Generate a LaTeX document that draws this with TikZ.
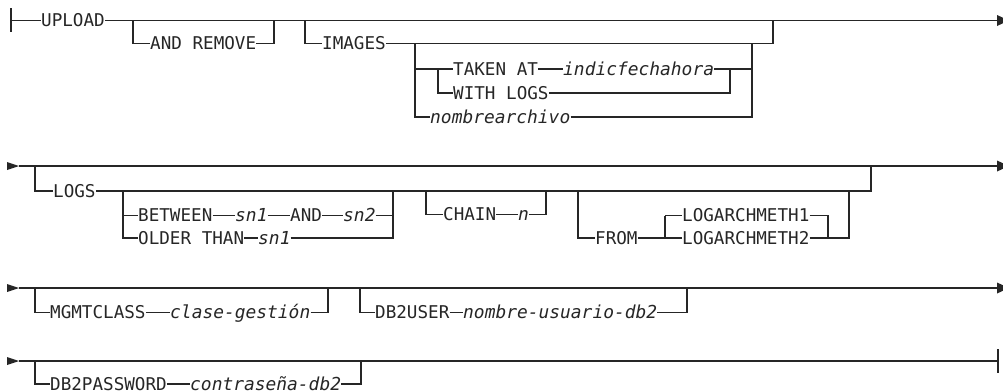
\documentclass[tikz,border=0pt]{standalone}
\usepackage{fontspec}
\setmonofont{DejaVu Sans Mono}
\definecolor{ink}{HTML}{262626}
\tikzset{
  rr/.style={line width=1.2pt, draw=ink},
  kw/.style={font=\ttfamily\fontsize{17.6}{18}\selectfont, text=ink, inner sep=0pt,
             text height=12.8pt, text depth=0pt, anchor=west},
  vr/.style={kw, font=\ttfamily\itshape\fontsize{17.9}{18}\selectfont},
  tipfill/.style={fill=ink, draw=none}
}
\begin{document}
\begin{tikzpicture}[x=1pt,y=-1pt]
\clip (0,0) rectangle (1003,391);
\fill[white] (0,0) rectangle (1003,391);

% ---------------- Row 1 ----------------
\coordinate (bar1t) at (11,8);
\coordinate (bar1b) at (11,32);
\coordinate (s1) at (11,20.5);
\coordinate (e1) at (997,20.5);
\draw[rr] (bar1t) -- (bar1b);
\node[kw] (upload) at (41,20.5) {UPLOAD};
\draw[rr] (s1) -- (upload.west);
\draw[rr] (upload.east) -- (e1);
\fill[tipfill] (e1) ++(0,-5.5) -- ++(12,5.5) -- ++(-12,5.5) -- cycle;

\coordinate (ar1) at (133,20.5);
\coordinate (ar2) at (274,20.5);
\node[kw] (andremove) at (150,43.5) {AND REMOVE};
\draw[rr] (ar1) |- (andremove.west);
\draw[rr] (andremove.east) -| (ar2);

\coordinate (im1) at (305,20.5);
\coordinate (im2) at (773,20.5);
\node[kw] (images) at (322,43.5) {IMAGES};
\draw[rr] (im1) |- (images.west);
\draw[rr] (images.east) -| (im2);

\coordinate (g1) at (415,43.5);
\coordinate (g2) at (752,43.5);
\node[vr] (nombre) at (430,117) {nombrearchivo};
\draw[rr] (g1) |- (nombre.west);
\draw[rr] (nombre.east) -| (g2);

\coordinate (t1) at (415,69);
\coordinate (t2) at (752,69);
\coordinate (n1) at (438,69);
\coordinate (n2) at (730,69);
\node[kw] (takenat) at (453,69) {TAKEN AT};
\node[vr] (indic) at (563,69) {indicfechahora};
\node[kw] (withlogs) at (453,93) {WITH LOGS};
\draw[rr] (t1) -- (takenat.west);
\draw[rr] (takenat.east) -- (indic.west);
\draw[rr] (indic.east) -- (t2);
\draw[rr] (n1) |- (withlogs.west);
\draw[rr] (withlogs.east) -| (n2);

% ---------------- Row 2 ----------------
\coordinate (a2) at (7,166);
\coordinate (s2) at (19,166);
\coordinate (e2) at (997,166);
\fill[tipfill] (a2) ++(0,-4) -- (s2) -- ++(-12,4) -- cycle;
\draw[rr] (s2) -- (e2);
\fill[tipfill] (e2) ++(0,-5.5) -- ++(12,5.5) -- ++(-12,5.5) -- cycle;

\coordinate (lg1) at (35,166);
\coordinate (lg2) at (871,166);
\node[kw] (logs) at (53,191) {LOGS};
\draw[rr] (lg1) |- (logs.west);
\draw[rr] (logs.east) -| (lg2);

\coordinate (b1) at (123,191);
\coordinate (b2) at (393,191);
\node[kw] (between) at (138,215.5) {BETWEEN};
\node[vr] (bsna) at (235,215.5) {sn1};
\node[kw] (band) at (290,215.5) {AND};
\node[vr] (bsnb) at (343,215.5) {sn2};
\node[kw] (older) at (138,238) {OLDER THAN};
\node[vr] (osna) at (258,238) {sn1};
\draw[rr] (b1) |- (older.west);
\draw[rr] (b1 |- between.west) -- (between.west);
\draw[rr] (between.east) -- (bsna.west);
\draw[rr] (bsna.east) -- (band.west);
\draw[rr] (band.east) -- (bsnb.west);
\draw[rr] (bsnb.east) -| (b2);
\draw[rr] (older.east) -- (osna.west);
\draw[rr] (osna.east) -| (b2);

\coordinate (c1) at (426,191);
\coordinate (c2) at (546,191);
\node[kw] (chain) at (443,214.5) {CHAIN};
\node[vr] (cn) at (518,214.5) {n};
\draw[rr] (c1) |- (chain.west);
\draw[rr] (chain.east) -- (cn.west);
\draw[rr] (cn.east) -| (c2);

\coordinate (f1) at (578,191);
\coordinate (f2) at (849,191);
\coordinate (m1) at (665,215.5);
\coordinate (m2) at (828,238);
\node[kw] (from) at (595,238) {FROM};
\node[kw] (lama) at (682,215.5) {LOGARCHMETH1};
\node[kw] (lamb) at (682,238) {LOGARCHMETH2};
\draw[rr] (f1) |- (from.west);
\draw[rr] (from.east) -- (lamb.west);
\draw[rr] (m1) |- (lamb.west);
\draw[rr] (m1) -- (lama.west);
\draw[rr] (lama.east) -| (m2);
\draw[rr] (lamb.east) -| (f2);

% ---------------- Row 3 ----------------
\coordinate (a3) at (7,288);
\coordinate (s3) at (19,288);
\coordinate (e3) at (997,288);
\fill[tipfill] (a3) ++(0,-4) -- (s3) -- ++(-12,4) -- cycle;
\draw[rr] (s3) -- (e3);
\fill[tipfill] (e3) ++(0,-5.5) -- ++(12,5.5) -- ++(-12,5.5) -- cycle;

\coordinate (mg1) at (35,288);
\coordinate (mg2) at (328,288);
\node[kw] (mgmt) at (50,312.5) {MGMTCLASS};
\node[vr] (clase) at (170,312.5) {clase-gestión};
\draw[rr] (mg1) |- (mgmt.west);
\draw[rr] (mgmt.east) -- (clase.west);
\draw[rr] (clase.east) -| (mg2);

\coordinate (du1) at (360,288);
\coordinate (du2) at (687,288);
\node[kw] (dbuser) at (375,312.5) {DB2USER};
\node[vr] (nomusr) at (463,312.5) {nombre-usuario-db2};
\draw[rr] (du1) |- (dbuser.west);
\draw[rr] (dbuser.east) -- (nomusr.west);
\draw[rr] (nomusr.east) -| (du2);

% ---------------- Row 4 ----------------
\coordinate (a4) at (7,361);
\coordinate (s4) at (19,361);
\coordinate (e4) at (998,361);
\coordinate (bar4t) at (998,349);
\coordinate (bar4b) at (998,373);
\fill[tipfill] (a4) ++(0,-4) -- (s4) -- ++(-12,4) -- cycle;
\draw[rr] (s4) -- (e4);
\draw[rr] (bar4t) -- (bar4b);

\coordinate (dp1) at (35,361);
\coordinate (dp2) at (361,361);
\node[kw] (dbpw) at (50,384) {DB2PASSWORD};
\node[vr] (contra) at (190,384) {contraseña-db2};
\draw[rr] (dp1) |- (dbpw.west);
\draw[rr] (dbpw.east) -- (contra.west);
\draw[rr] (contra.east) -| (dp2);
\coordinate (dk1) at (366,360.3);
\coordinate (dk2) at (387,360.3);
\draw[rr, line width=1.5pt] (dk1) -- (dk2);
\end{tikzpicture}
\end{document}
